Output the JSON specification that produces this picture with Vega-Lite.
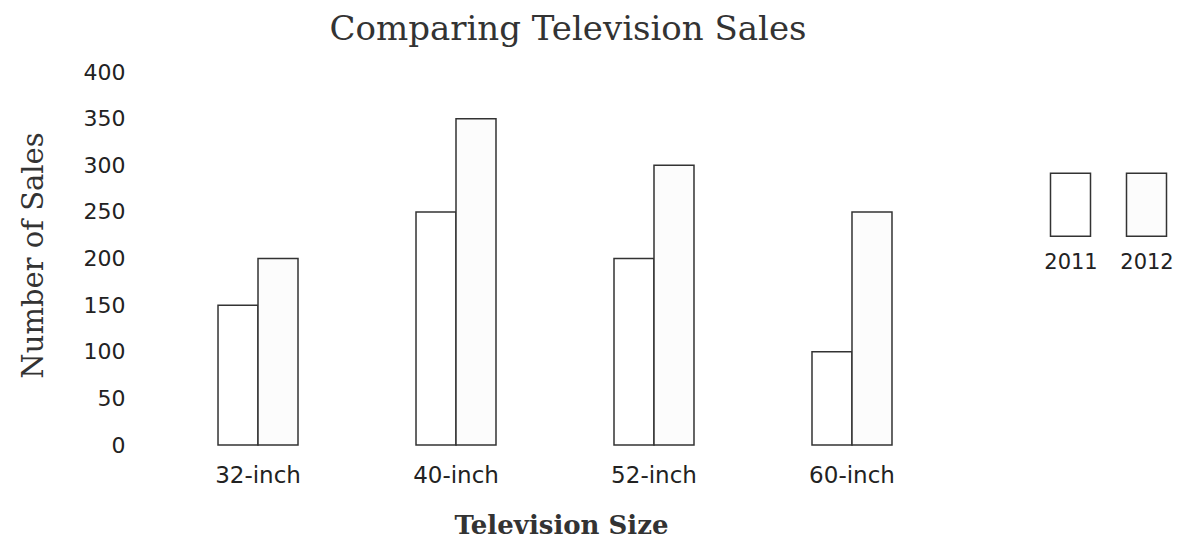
{
  "$schema": "https://vega.github.io/schema/vega-lite/v6.json",
  "autosize": "none",
  "width": 830,
  "height": 373,
  "padding": {"left": 140, "top": 72, "right": 213, "bottom": 94},
  "background": "#ffffff",
  "config": {"view": {"stroke": null}},
  "title": {
    "text": "Comparing Television Sales",
    "font": "DejaVu Serif",
    "fontSize": 34,
    "fontWeight": "normal",
    "color": "#333333",
    "anchor": "middle",
    "frame": "group",
    "baseline": "alphabetic",
    "offset": 32,
    "dx": 13,
    "dy": 45
  },
  "data": {
    "values": [
      {"size": "32-inch", "year": "2011", "sales": 150},
      {"size": "32-inch", "year": "2012", "sales": 200},
      {"size": "40-inch", "year": "2011", "sales": 250},
      {"size": "40-inch", "year": "2012", "sales": 350},
      {"size": "52-inch", "year": "2011", "sales": 200},
      {"size": "52-inch", "year": "2012", "sales": 300},
      {"size": "60-inch", "year": "2011", "sales": 100},
      {"size": "60-inch", "year": "2012", "sales": 250}
    ]
  },
  "mark": {"type": "bar", "stroke": "#333333", "strokeWidth": 1.5},
  "encoding": {
    "x": {
      "field": "size",
      "type": "nominal",
      "sort": ["32-inch", "40-inch", "52-inch", "60-inch"],
      "scale": {"paddingInner": 0.596, "paddingOuter": 0.394},
      "axis": {
        "title": "Television Size",
        "labelAngle": 0,
        "domain": false,
        "ticks": false,
        "labelPadding": 19,
        "labelFont": "DejaVu Sans",
        "labelFontSize": 23,
        "labelColor": "#222222",
        "titleFont": "DejaVu Serif",
        "titleFontSize": 26,
        "titleFontWeight": "bold",
        "titleColor": "#333333",
        "titleBaseline": "alphabetic",
        "titleAnchor": "start",
        "titleAlign": "center",
        "titleX": 421,
        "titleY": 88
      }
    },
    "xOffset": {"field": "year", "type": "nominal", "sort": ["2011", "2012"]},
    "y": {
      "field": "sales",
      "type": "quantitative",
      "scale": {"domain": [0, 400], "nice": false},
      "axis": {
        "title": "Number of Sales",
        "values": [0, 50, 100, 150, 200, 250, 300, 350, 400],
        "domain": false,
        "ticks": false,
        "grid": false,
        "labelPadding": 15,
        "labelFont": "DejaVu Sans",
        "labelFontSize": 22,
        "labelColor": "#222222",
        "titleFont": "DejaVu Serif",
        "titleFontSize": 29,
        "titleFontWeight": "normal",
        "titleColor": "#333333",
        "titleAngle": -90,
        "titleBaseline": "alphabetic",
        "titleAlign": "center",
        "titleX": -98,
        "titleY": 183
      }
    },
    "fill": {
      "field": "year",
      "type": "nominal",
      "sort": ["2011", "2012"],
      "scale": {"range": ["#ffffff", "#fcfcfc"]},
      "legend": {
        "orient": "none",
        "legendX": 898,
        "legendY": 100,
        "direction": "horizontal",
        "title": null,
        "padding": 0,
        "symbolType": "M-0.635,-1H0.635V1H-0.635Z",
        "symbolSize": 3969,
        "symbolStrokeColor": "#333333",
        "symbolStrokeWidth": 1.5,
        "labelFont": "DejaVu Sans",
        "labelFontSize": 21,
        "labelColor": "#222222",
        "labelAlign": "center",
        "columnPadding": 16,
        "encode": {"labels": {"update": {"dx": {"value": -36}, "dy": {"value": 58}}}}
      }
    }
  }
}
